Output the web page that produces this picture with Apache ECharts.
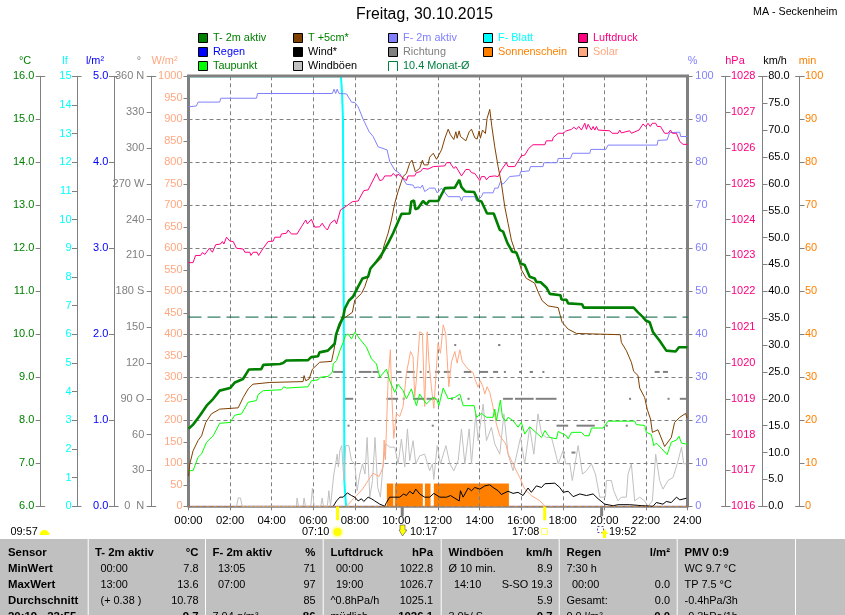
<!DOCTYPE html>
<html><head><meta charset="utf-8">
<style>html,body{margin:0;padding:0;background:#fff;overflow:hidden}#c{width:845px;height:615px}</style>
<script src="https://cdn.jsdelivr.net/npm/echarts@6/dist/echarts.min.js"></script>
</head><body><div id="c"></div>
<script>
// ---- data: [hour, value] ----
const t2m=[[0,7.8],[0.22,7.9],[0.55,8.11],[0.87,8.34],[1.19,8.5],[1.5,8.69],[2,8.75],[2.23,8.88],[2.62,8.96],[2.9,9.18],[3.5,9.19],[3.6,9.29],[4.4,9.31],[4.55,9.33],[4.7,9.39],[5.75,9.4],[5.9,9.47],[6.23,9.49],[6.3,9.58],[6.7,9.62],[7.03,9.78],[7.1,10],[7.27,10.24],[7.44,10.4],[7.52,10.6],[7.71,10.78],[7.92,10.88],[8.16,11.11],[8.37,11.3],[8.64,11.34],[8.75,11.53],[9.04,11.69],[9.28,11.85],[9.6,12.12],[9.84,12.35],[10.08,12.62],[10.24,12.8],[10.64,12.81],[10.72,13.09],[10.85,13.11],[10.91,12.91],[11.04,12.93],[11.28,13.1],[11.44,13.02],[11.57,13.1],[12.01,13.1],[12.33,13.4],[12.81,13.41],[13.02,13.59],[13.13,13.42],[13.32,13.32],[13.74,13.31],[13.93,13.11],[14.09,13.09],[14.36,12.81],[14.68,12.81],[14.97,12.43],[15.13,12.39],[15.34,12.12],[15.57,11.92],[15.77,11.9],[15.97,11.65],[16.17,11.61],[16.41,11.34],[16.65,11.3],[16.73,11.22],[16.94,11.21],[17.21,11.09],[17.38,10.94],[17.89,10.91],[17.94,10.81],[18.18,10.8],[18.26,10.72],[18.93,10.7],[19.01,10.62],[21.41,10.62],[21.62,10.51],[21.86,10.4],[21.99,10.32],[22.18,10.28],[22.34,10.05],[22.66,9.85],[22.98,9.62],[23.43,9.6],[23.59,9.7],[24,9.7]];
const t5cm=[[0,6.7],[0.06,6.98],[0.22,7.29],[0.46,7.53],[0.63,7.64],[0.83,7.95],[1.1,8.15],[1.5,8.26],[2.39,8.29],[2.63,8.53],[2.87,8.73],[3.1,8.84],[3.91,8.88],[5.51,8.9],[5.56,9.04],[5.64,8.92],[5.8,8.96],[5.96,9.19],[6.31,9.35],[6.88,9.37],[6.99,9.62],[7.12,10],[7.44,10.36],[7.88,10.51],[8,10.8],[8.32,10.95],[8.48,11.11],[8.64,11.34],[8.8,11.57],[9.28,11.77],[9.39,12.04],[9.6,12.35],[9.76,12.66],[9.92,13.05],[10.08,13.32],[10.32,13.67],[10.48,13.74],[10.64,13.98],[10.75,14.05],[10.83,14.02],[10.91,13.78],[11.12,13.86],[11.25,14.05],[11.33,13.94],[11.52,13.94],[11.6,14.12],[11.77,14.21],[11.93,14.07],[12.17,14.29],[12.33,14.56],[12.49,14.77],[12.6,14.64],[12.76,14.53],[12.86,14.71],[12.92,14.56],[13.02,14.73],[13.08,14.6],[13.34,14.5],[13.5,14.71],[13.61,14.77],[13.77,14.57],[13.88,14.54],[13.98,14.73],[14.04,14.56],[14.14,14.75],[14.28,14.67],[14.36,15.02],[14.49,15.23],[14.59,14.83],[14.73,14.36],[14.89,13.9],[15.05,13.51],[15.21,12.97],[15.37,12.58],[15.53,12.19],[15.69,11.96],[15.85,11.77],[16.01,11.5],[16.25,11.3],[16.65,11.19],[16.81,10.99],[17.01,10.78],[17.3,10.66],[17.78,10.62],[17.86,10.47],[17.97,10.28],[18.26,10.12],[18.66,10.02],[20.77,9.99],[20.82,9.81],[21.06,9.62],[21.3,9.35],[21.41,9.14],[21.62,9.04],[21.7,8.75],[21.94,8.53],[22.06,8.26],[22.22,8.03],[22.31,7.72],[22.58,7.78],[22.9,7.39],[23.22,7.6],[23.38,7.95],[23.63,8.07],[23.91,8.16],[23.98,8.05]];
const taupunkt=[[0,6.83],[0.22,6.83],[0.46,7.14],[0.63,7.22],[0.87,7.49],[1.19,7.64],[1.5,7.93],[2,7.95],[2.23,8.12],[2.55,8.15],[2.87,8.42],[3.27,8.46],[3.35,8.6],[3.6,8.69],[4.47,8.71],[4.58,8.78],[4.71,8.75],[5.75,8.78],[5.91,8.92],[6.23,8.94],[6.31,9],[6.71,9.02],[6.92,9.12],[6.96,9.31],[7.12,9.39],[7.28,9.62],[7.44,9.81],[7.55,9.97],[7.68,10.01],[7.84,9.89],[8,10.05],[8.24,9.89],[8.56,9.7],[8.8,9.43],[9.04,9.31],[9.2,9],[9.52,9.19],[9.68,8.92],[9.92,8.65],[10.08,8.84],[10.32,8.69],[10.48,8.5],[10.72,8.73],[10.96,8.34],[11.12,8.61],[11.44,8.38],[11.76,8.53],[11.93,8.5],[12.04,8.34],[12.25,8.75],[12.49,8.5],[12.81,8.53],[13.05,8.61],[13.21,8.34],[13.74,8.34],[13.85,8.07],[14.09,8.16],[14.33,8.07],[14.65,8.07],[14.73,8.26],[14.81,7.99],[15,8.47],[15.1,8.07],[15.26,7.98],[15.37,8.07],[15.61,7.99],[15.85,7.84],[16.01,7.95],[16.17,7.68],[16.41,7.85],[16.7,7.72],[16.98,7.6],[17.14,7.76],[17.38,7.6],[17.7,7.57],[17.78,7.74],[18.18,7.64],[18.26,7.57],[18.42,7.72],[18.9,7.72],[19.06,7.64],[19.27,7.64],[19.38,7.82],[19.94,7.82],[20.18,7.98],[21.46,7.98],[21.54,7.9],[21.94,7.88],[22.02,7.72],[22.26,7.67],[22.38,7.41],[22.5,7.47],[22.74,7.35],[23.02,7.2],[23.22,7.49],[23.47,7.54],[23.59,7.63],[23.71,7.47],[23.91,7.45],[24,7.45]];
const feuchte=[[0,92.9],[0.38,93.1],[0.46,94],[1.5,94],[1.55,94.9],[3.27,94.9],[3.32,96],[6.92,96],[7,97],[7.08,96],[7.15,97],[7.24,96],[7.6,95.9],[7.84,94],[8,93.9],[8.16,92.9],[8.4,90],[8.69,87.1],[8.88,86],[9.12,83.6],[9.55,82.9],[9.68,80.2],[9.92,78.2],[10.16,77.4],[10.48,74.9],[10.8,74.7],[10.88,74],[11.04,74.3],[11.15,74],[11.25,74.7],[11.36,73.2],[11.6,74],[11.85,74],[11.96,72.9],[12.17,74],[12.49,72],[13.05,72],[13.13,71],[13.21,72],[13.77,72],[13.85,71],[14.09,72],[14.17,72.9],[14.65,72.9],[14.73,74],[14.89,74],[15,75.5],[15.13,74.9],[15.45,76.7],[15.93,76.9],[15.97,77.8],[16.38,78],[16.45,79],[17.05,79],[17.09,79.9],[17.73,79.9],[17.78,80.9],[18.37,80.9],[18.47,82.1],[19.3,82.1],[19.35,83],[20.07,83],[20.18,84],[22.54,84],[22.58,85.1],[23.02,85.2],[23.14,86.9],[23.63,87],[23.67,86],[24,86]];
const blatt=[[0,15],[7.33,15],[7.38,14.5],[7.43,13.5],[7.5,0.8],[7.58,0]];
const luftdruck=[[0,1022.8],[0.22,1022.8],[0.34,1023],[0.58,1023],[0.67,1023.08],[0.79,1023.03],[1,1023.2],[1.15,1023.09],[1.31,1023.3],[1.54,1023.32],[1.63,1023.39],[1.7,1023.32],[1.83,1023.51],[1.99,1023.4],[2.15,1023.39],[2.31,1023.2],[2.63,1023.18],[2.71,1023.09],[2.95,1023.09],[3,1023],[3.11,1023.09],[3.3,1023.09],[3.37,1023],[3.59,1023.2],[3.83,1023.39],[4.07,1023.4],[4.15,1023.51],[4.42,1023.51],[4.47,1023.6],[4.71,1023.62],[4.79,1023.71],[4.95,1023.6],[5.22,1023.6],[5.43,1023.8],[5.64,1023.99],[5.72,1023.88],[5.91,1024.01],[6.07,1023.79],[6.31,1023.8],[6.43,1023.9],[6.55,1023.79],[6.68,1023.71],[6.83,1023.9],[7.03,1023.99],[7.12,1023.88],[7.31,1024.27],[7.6,1024.38],[7.88,1024.5],[8.16,1024.52],[8.43,1024.81],[8.64,1024.83],[9.04,1025.29],[9.2,1025.09],[9.33,1025.11],[9.44,1025.22],[9.76,1025.22],[9.84,1025.29],[10,1025.2],[10.08,1025.27],[10.24,1025.2],[10.48,1025.09],[10.56,1025.22],[10.88,1025.22],[10.96,1025.31],[11.15,1025.34],[11.28,1025.43],[11.52,1025.41],[11.77,1025.48],[12.33,1025.5],[12.41,1025.59],[12.57,1025.59],[12.76,1025.43],[12.86,1025.48],[13.13,1025.22],[13.34,1025.4],[13.5,1025.4],[13.61,1025.31],[13.77,1025.29],[14.01,1025.09],[14.09,1025.2],[14.25,1025.2],[14.33,1025.11],[14.46,1025.2],[14.73,1025.22],[14.89,1025.2],[15.05,1025.39],[15.29,1025.59],[15.37,1025.48],[15.69,1025.48],[16.01,1025.78],[16.17,1025.8],[16.37,1025.99],[16.57,1026.09],[17.14,1026.09],[17.21,1026.2],[17.5,1026.2],[17.54,1026.29],[17.78,1026.41],[18.02,1026.41],[18.14,1026.47],[18.42,1026.52],[18.53,1026.58],[18.66,1026.52],[18.77,1026.6],[18.9,1026.5],[19.06,1026.69],[19.14,1026.52],[19.22,1026.66],[19.38,1026.5],[19.46,1026.6],[19.54,1026.5],[19.62,1026.6],[19.7,1026.5],[20.26,1026.48],[20.37,1026.41],[20.66,1026.41],[20.74,1026.5],[20.82,1026.42],[21.22,1026.48],[21.3,1026.41],[21.67,1026.5],[21.86,1026.67],[21.99,1026.6],[22.1,1026.69],[22.21,1026.6],[22.31,1026.69],[22.47,1026.69],[22.55,1026.6],[22.7,1026.6],[22.9,1026.41],[23.07,1026.41],[23.18,1026.5],[23.27,1026.41],[23.47,1026.41],[23.63,1026.18],[23.79,1026.1],[24,1026.1]];
const solar=[[7.6,0],[7.84,13],[8.08,25],[8.37,40],[8.64,60],[8.88,77],[9.17,69],[9.36,92],[9.41,154],[9.47,108],[9.6,294],[9.71,364],[9.76,278],[9.87,158],[10,216],[10.16,209],[10.32,232],[10.48,309],[10.68,360],[10.8,348],[10.88,255],[10.96,294],[11.12,406],[11.25,402],[11.36,232],[11.48,406],[11.57,333],[11.68,278],[11.8,228],[12,379],[12.12,356],[12.25,422],[12.37,402],[12.52,278],[12.65,336],[12.81,360],[12.92,333],[13.05,364],[13.17,336],[13.45,319],[13.69,311],[13.77,296],[13.93,277],[14.04,292],[14.17,277],[14.25,261],[14.36,278],[14.49,265],[14.65,230],[14.81,191],[14.97,164],[15.26,145],[15.37,122],[15.61,98],[15.93,67],[16.17,40],[16.49,25],[16.9,13],[17.14,0]];
const wind=[[6.96,0],[7.12,1],[7.28,1.7],[7.44,1.7],[7.64,2.5],[7.84,2],[8,1.7],[8.16,1],[8.32,1.4],[8.43,0.9],[8.64,1.7],[8.8,1.4],[8.96,1],[9.2,0.4],[9.44,0],[9.52,0.7],[9.68,1.7],[10.16,1.7],[10.35,2.3],[10.48,2],[10.64,2.8],[10.8,2.3],[10.93,3.2],[11.12,2.3],[11.36,1.7],[11.6,1.7],[11.8,2.4],[12.09,1.7],[12.41,1.7],[12.6,2],[12.81,1.5],[13.02,1],[13.08,2.9],[13.21,1.7],[13.45,3.4],[13.61,2.9],[13.77,3.5],[14.01,3.2],[14.25,3.8],[14.49,4],[14.65,3.5],[14.89,2.9],[15.05,2.2],[15.37,2.8],[15.61,2.4],[15.85,2.6],[16.09,2],[16.33,3.4],[16.49,2.6],[16.73,3.8],[16.98,3.5],[17.14,4.2],[17.62,4.3],[17.86,3.5],[18.02,2.6],[18.26,2.8],[18.5,1.8],[18.82,2.3],[19.14,2],[19.46,2.3],[19.7,1.4],[20.02,0.4],[20.42,0.1],[20.66,0.3],[21.22,0.3],[21.86,0.1],[22.34,0],[22.5,0.7],[22.82,0.4],[22.98,0.9],[23.22,0.7],[23.47,1.7],[23.63,1.2],[23.95,1.5]];
const boeen=[[2.31,0],[2.39,1.55],[2.5,1.55],[2.58,0],[5.19,0],[5.22,1.55],[5.29,0],[5.51,0],[5.56,1.55],[5.62,0],[5.88,0],[5.96,3.4],[6.04,0],[6.36,0],[6.43,1.55],[6.49,0],[6.68,0],[6.75,2.9],[6.83,0],[6.99,6],[7.08,7.9],[7.15,9.7],[7.21,7.3],[7.28,10.4],[7.37,11.3],[7.47,4.8],[7.56,11.3],[7.71,11.3],[7.84,8.5],[8,7.9],[8.11,2.9],[8.24,6],[8.37,7.9],[8.49,6],[8.59,12.8],[8.72,1.7],[8.85,4.8],[8.97,12.8],[9.1,3.5],[9.23,1.7],[9.36,7.9],[9.49,11.6],[9.68,11],[9.92,11],[10.08,7.9],[10.24,12.5],[10.4,7.3],[10.53,14.4],[10.64,8.5],[10.8,12.2],[10.93,7.9],[11.12,9.4],[11.36,9.7],[11.6,6.6],[11.73,7.9],[11.8,5],[11.96,11.3],[12.12,7.9],[12.38,11.3],[12.57,7.9],[12.76,6.6],[12.97,8.5],[13.13,14.4],[13.29,7.9],[13.5,14.4],[13.61,7.9],[13.82,17.2],[13.93,12.2],[14.17,19],[14.33,12.2],[14.57,14.7],[14.73,11.6],[14.97,9.7],[15.17,17.2],[15.37,9.7],[15.61,6.6],[15.97,12.8],[16.17,7.9],[16.41,14.7],[16.61,9.7],[16.81,17.2],[16.98,13.5],[17.21,12.8],[17.46,12.8],[17.78,7.9],[18.02,10.4],[18.14,7.9],[18.34,7.9],[18.46,4.8],[18.74,11.3],[18.95,6],[19.14,6.6],[19.38,7.9],[19.57,6],[19.78,1.7],[20.05,1.7],[20.1,4.8],[20.34,4.8],[20.45,2.9],[20.66,1],[20.82,1.7],[21.06,1.7],[21.14,6],[21.3,7.9],[21.46,1],[21.7,1.7],[21.94,1],[22.1,0],[22.31,1],[22.47,9.7],[22.66,4.8],[22.82,3.2],[23.06,4.8],[23.31,5.4],[23.55,8.5],[23.71,11],[23.82,7.9],[23.95,7.9]];
const regen=[[0,0],[24,0]];
const monatMittel=[[0,10.4],[24,10.4]];
// wind direction runs: [from hour, to hour, degrees]
const richtung=[[6.96,7.44,112.5],[8.19,8.8,112.5],[8.85,9.12,112.5],[10,10.24,112.5],[10.48,10.88,112.5],[11.12,11.2,112.5],[11.48,11.54,112.5],[11.85,12.1,112.5],[12.28,12.57,112.5],[13.24,13.61,112.5],[14.01,14.41,112.5],[14.65,14.89,112.5],[15.17,15.25,112.5],[15.9,15.97,112.5],[16.41,16.57,112.5],[17.02,17.09,112.5],[22.42,22.66,112.5],[22.82,23.06,112.5],
[7.52,7.92,90],[9.52,10.08,90],[10.3,10.36,90],[10.8,11.36,90],[11.45,11.9,90],[12.62,12.68,90],[12.95,13.0,90],[13.42,13.48,90],[15.13,15.6,90],[15.7,16.6,90],[16.7,17.7,90],[21.19,21.25,90],[23.04,23.1,90],[23.63,23.95,90],
[7.65,7.71,67.5],[11.7,11.76,67.5],[17.7,18.26,67.5],[18.66,19.54,67.5],[20.07,20.13,67.5],[21.03,21.09,67.5],
[18,18.05,45],[18.42,18.61,45],
[12.78,12.84,135],[14.89,15,135]];
// sunshine runs: [from hour, to hour, minutes]
const sonne=[[9.54,9.85,5.3],[9.92,11.27,5.3],[11.37,11.64,5.3],[11.8,15.41,5.3]];
const sonneBasis=[[0,0],[24,0]];
const sunTimes=[7.17,17.13];
const moonTimes=[10.28,19.87];
// tick labels
const hourLabels=['00:00','02:00','04:00','06:00','08:00','10:00','12:00','14:00','16:00','18:00','20:00','22:00','24:00'];
const dirNames={0:'0  N',90:'90 O',180:'180 S',270:'270 W',360:'360 N'};
const legendRows=[
 [198,33,'#008000','T- 2m aktiv','#008000'],[198,47,'#0000FF','Regen','#0000FF'],[198,61,'#00FF00','Taupunkt','#008000'],
 [293,33,'#804000','T +5cm*','#008000'],[293,47,'#000000','Wind*','#000000'],[293,61,'#C0C0C0','Windböen','#000000'],
 [388,33,'#8080FF','F- 2m aktiv','#8080FF'],[388,47,'#808080','Richtung','#808080'],
 [483,33,'#00FFFF','F- Blatt','#00FFFF'],[483,47,'#FF8000','Sonnenschein','#FF8000'],
 [578,33,'#FF0080','Luftdruck','#FF0080'],[578,47,'#FFA880','Solar','#FFA880']];
const axisNames=[[25,61,'°C','#008000'],[65,61,'lf','#00FFFF'],[95,61,'l/m²','#0000FF'],[139,61,'°','#808080'],[164.5,61,'W/m²','#FFA880'],[692.5,61,'%','#8080FF'],[735,61,'hPa','#FF0080'],[775,61,'km/h','#000000'],[807.5,61,'min','#FF8000']];
const sunText=[[10.5,532,'09:57'],[302,532,'07:10'],[410,532,'10:17'],[512,532,'17:08'],[609,532,'19:52']];
// table
const tableCols=[87.7,205,322.7,440.7,558.7,676.7,795];
const rowY=[552.5,568.7,584.7,600.7,616.7];
const tableLeft=[
 [8,['*Sensor','*MinWert','*MaxWert','*Durchschnitt','*20:19 - 22:55']],
 [95,['*T- 2m aktiv',' 00:00',' 13:00',' (+ 0.38 )','']],
 [212.5,['*F- 2m aktiv',' 13:05',' 07:00','','7.04 g/m³']],
 [330.5,['*Luftdruck',' 00:00',' 19:00','^0.8hPa/h','müdlich']],
 [448.5,['*Windböen','Ø 10 min.',' 14:10','','3.0h/ S']],
 [566.5,['*Regen','7:30 h',' 00:00','Gesamt:','0.0 l/m²']],
 [684.5,['*PMV 0:9','WC 9.7 °C','TP 7.5 °C','-0.4hPa/3h','-0.3hPa/1h']]];
const tableRight=[
 [198.5,['*°C','7.8','13.6','10.78','*9.7']],
 [315.5,['*%','71','97','85','*86']],
 [433,['*hPa','1022.8','1026.7','1025.1','*1026.1']],
 [552.5,['*km/h','8.9','S-SO 19.3','5.9','*0.7']],
 [670,['*l/m²','','0.0','0.0','*0.0']]];

const FONT='"Liberation Sans",Arial,sans-serif';
const GREY='#808080';
const PT={left:188.5,right:687.5,top:76.3,bottom:506.3};
function yAxis(pos,off,min,max,interval,color,fmt,margin,extra){
  return Object.assign({type:'value',position:pos,offset:off,min,max,interval,
    axisLine:{show:true,onZero:false,lineStyle:{color:GREY,width:1}},
    axisTick:{show:true,length:5,lineStyle:{color:GREY,width:1}},
    axisLabel:{show:true,color,fontFamily:FONT,fontSize:11,margin,formatter:fmt},
    splitLine:{show:false}},extra||{});
}
const fix1=v=>v.toFixed(1);
const yAxes=[
  yAxis('left',147.8,6,16,1,'#008000',fix1,6.4),
  yAxis('left',111.5,0,15,1,'#00FFFF',v=>String(v),5.5),
  yAxis('left',74.5,0,5,1,'#0000FF',fix1,5.7),
  yAxis('left',36.8,0,360,30,GREY,v=>dirNames[v]||String(v),7.4),
  yAxis('left',0,0,1000,50,'#FFA880',v=>String(v),6,{axisLine:{show:true,onZero:false,lineStyle:{color:GREY,width:3}}}),
  yAxis('right',0,0,100,10,'#8080FF',v=>String(v),7.8,{axisLine:{show:true,onZero:false,lineStyle:{color:GREY,width:3}},splitLine:{show:true,lineStyle:{color:GREY,type:[4,3],width:1}}}),
  yAxis('right',38,1016,1028,1,'#FF0080',v=>String(v),5.4),
  yAxis('right',75,0,80,5,'#000000',fix1,5.7),
  yAxis('right',112,0,100,10,'#FF8000',v=>String(v),5.4)
];
const line=(name,data,y,color,width,extra)=>Object.assign({name,type:'line',data,yAxisIndex:y,showSymbol:false,symbol:'none',animation:false,silent:true,lineStyle:{color,width},itemStyle:{color}},extra||{});
function rectSeries(name,data,y,color){
  return {name,type:'custom',data,yAxisIndex:y,silent:true,animation:false,encode:{x:[0,1],y:2},clip:false,
    renderItem:(p,api)=>{
      const a=api.coord([api.value(0),api.value(2)]),b=api.coord([api.value(1),api.value(2)]),base=api.coord([api.value(0),y===3?api.value(2):0]);
      if(y===3) return {type:'rect',shape:{x:a[0],y:a[1]-1,width:Math.max(b[0]-a[0],2),height:2},style:{fill:color}};
      return {type:'rect',shape:{x:a[0],y:a[1],width:b[0]-a[0],height:base[1]-a[1]},style:{fill:color}};
    }};
}
function stemSeries(name,times,color,w,len){
  return {name,type:'custom',data:times.map(t=>[t]),silent:true,animation:false,encode:{x:0},clip:false,z:5,yAxisIndex:4,
    renderItem:(p,api)=>{const a=api.coord([api.value(0),0]);
      return {type:'rect',shape:{x:a[0]-w/2,y:a[1],width:w,height:len},style:{fill:color}};}};
}
const series=[
  line('Regen',regen,2,'#0000FF',0.5,{z:0}),
  rectSeries('Sonnenschein',sonne,8,'#FF8000'),
  rectSeries('Richtung',richtung,3,GREY),
  line('F- Blatt',blatt,1,'#00FFFF',2,{clip:false}),
  line('Windböen',boeen,7,'#C0C0C0',1),
  line('Solar',solar,4,'#FFA880',1),
  line('Wind*',wind,7,'#000000',1),
  line('F- 2m aktiv',feuchte,5,'#8080FF',1),
  line('Luftdruck',luftdruck,6,'#FF0080',1),
  line('Taupunkt',taupunkt,0,'#00FF00',1),
  line('10.4 Monat-Ø',monatMittel,0,'#008040',1,{lineStyle:{color:'#005F40',width:1,type:[13,6]}}),
  line('T +5cm*',t5cm,0,'#804000',1),
  line('T- 2m aktiv',t2m,0,'#008000',2.6),
  line('Sonnenschein Basis',sonneBasis,8,'#FF8000',1,{z:6,lineStyle:{color:'#FF8000',width:1,type:[2,2]}}),
  stemSeries('Sonnenauf/-untergang',sunTimes,'#FFFF00',3,14),
  stemSeries('Mondauf/-untergang',moonTimes,GREY,3,10)
];

// ---- graphic layer ----
const txt=(x,y,text,fill,size,align,bold)=>({type:'text',x,y,silent:true,z:20,style:{text,fill,font:(bold?'bold ':'')+size+'px '+FONT,align:align||'left',verticalAlign:'middle'}});
const seg=(x1,y1,x2,y2,color,w)=>({type:'line',silent:true,z:18,shape:{x1,y1,x2,y2},style:{stroke:color,lineWidth:w}});
const g=[];
g.push(txt(424.5,15,'Freitag, 30.10.2015','#000',15.8,'center'));
g.push(txt(753,12,'MA - Seckenheim','#000',10.7));
legendRows.forEach(r=>{
  g.push({type:'rect',silent:true,z:20,shape:{x:r[0]+.5,y:r[1]+.5,width:9,height:9},style:{fill:r[2],stroke:'#000',lineWidth:1}});
  g.push(txt(r[0]+15,r[1]+5,r[3],r[4],10.9));
});
g.push({type:'polyline',silent:true,z:20,shape:{points:[[388.5,71],[388.5,61.5],[397.5,61.5],[397.5,71]]},style:{stroke:'#008040',fill:'none',lineWidth:1}});
g.push(txt(403,66,'10.4 Monat-Ø','#008040',10.9));
axisNames.forEach(a=>g.push(txt(a[0],a[1],a[2],a[3],10.9,'center')));
g.push(seg(187,76,689,76,GREY,3));
[40.7,77,114,151.7,725.7,762.7,799.7].forEach(a=>{
  const x=a+.5;
  g.push(seg(x-5,76.5,x+4,76.5,GREY,1)); g.push(seg(x-5,506.5,x+4,506.5,GREY,1));
});
sunText.forEach(s=>g.push(txt(s[0],s[1],s[2],'#000',10.9)));
g.push({type:'sector',silent:true,z:20,shape:{cx:44.5,cy:535,r:5,r0:0,startAngle:Math.PI,endAngle:0,clockwise:true},style:{fill:'#FFFF00'}});
g.push({type:'circle',silent:true,z:20,shape:{cx:337.5,cy:532,r:6},style:{fill:'#FFFFB0'}});
g.push({type:'circle',silent:true,z:21,shape:{cx:337.5,cy:532,r:4},style:{fill:'#FFFF00'}});
g.push({type:'polygon',silent:true,z:20,shape:{points:[[400,525],[405,525],[405,530],[407,530],[402.5,536],[399,530],[400,530]]},style:{fill:'#FFFF00',stroke:'#303060',lineWidth:.5}});
g.push({type:'rect',silent:true,z:20,shape:{x:541.5,y:528.5,width:6,height:6},style:{fill:'none',stroke:'#FFFF60',lineWidth:1}});
g.push({type:'rect',silent:true,z:20,shape:{x:597.5,y:526.5,width:6,height:6},style:{fill:'none',stroke:'#5050A0',lineWidth:1,lineDash:[2,2]}});
g.push({type:'polygon',silent:true,z:20,shape:{points:[[604.5,529],[608,534],[606,534],[606,538],[603,538],[603,534],[601,534]]},style:{fill:'#FFFF00'}});
g.push({type:'rect',silent:true,z:15,shape:{x:0,y:539,width:845,height:76},style:{fill:'#C0C0C0'}});
tableCols.forEach(x=>g.push({type:'rect',silent:true,z:16,shape:{x,y:539,width:1,height:76},style:{fill:'#FFFFFF'}}));
const cell=(x,y,s,align)=>{ if(!s) return;
  const b=s[0]==='*'; const t=b?s.slice(1):s.trim(); const ind=(!b&&s[0]===' ')?5.5:0;
  g.push(txt(x+ind,y,t,'#000',b?11.4:10.9,align,b)); };
tableLeft.forEach(c=>c[1].forEach((s,i)=>cell(c[0],rowY[i],s,'left')));
tableRight.forEach(c=>c[1].forEach((s,i)=>cell(c[0],rowY[i],s,'right')));

const chart=echarts.init(document.getElementById('c'),null,{renderer:'canvas',width:845,height:615});
chart.setOption({
  animation:false,backgroundColor:'#FFFFFF',
  grid:{left:PT.left,right:845-PT.right,top:PT.top,height:PT.bottom-PT.top,containLabel:false},
  xAxis:{type:'value',min:0,max:24,interval:2,z:3,
    axisLine:{show:true,onZero:false,lineStyle:{color:GREY,width:1.5}},
    axisTick:{show:true,length:4,lineStyle:{color:GREY}},
    axisLabel:{color:'#000',fontFamily:FONT,fontSize:11.3,margin:9,formatter:v=>hourLabels[v/2]},
    splitLine:{show:true,lineStyle:{color:GREY,type:[4,3],width:1}}},
  yAxis:yAxes,series,graphic:{elements:g}
});
</script></body></html>
